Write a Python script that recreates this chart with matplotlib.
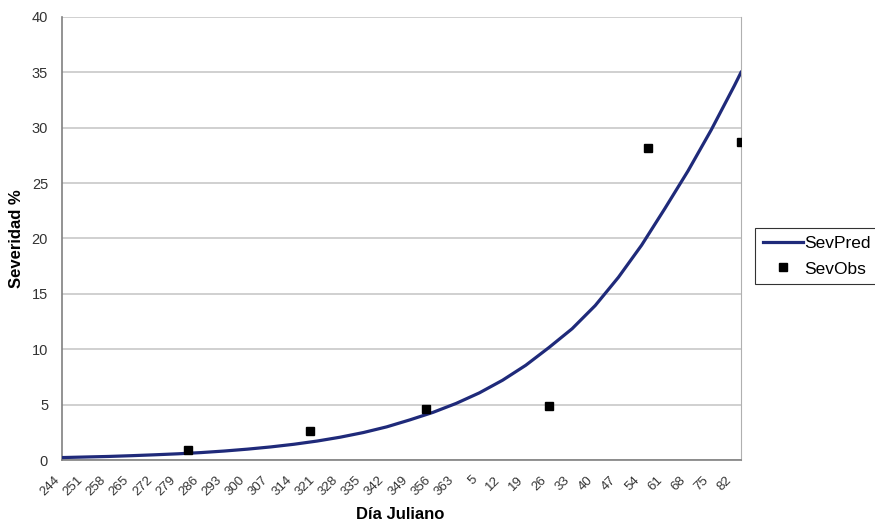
import matplotlib
matplotlib.use('Agg')
import matplotlib.pyplot as plt

plt.rcParams['font.family'] = ['Liberation Sans', 'DejaVu Sans']

# predicted severity, read every 7 days from day 244 (days past 365 run on into next year)
pred_days = [244, 251, 258, 265, 272, 279, 286, 293, 300, 307, 314, 321, 328, 335, 342,
             349, 356, 363, 370, 377, 384, 391, 398, 405, 412, 419, 426, 433, 440, 447, 449]
sev_pred = [0.22, 0.27, 0.32, 0.39, 0.47, 0.56, 0.67, 0.81, 0.98, 1.18, 1.42, 1.71, 2.06,
            2.48, 2.99, 3.62, 4.30, 5.11, 6.06, 7.2, 8.55, 10.15, 11.85, 13.95, 16.5, 19.4,
            22.7, 26.1, 29.8, 33.8, 35.0]

# observed severity (Julian day of sampling)
obs_days = [282, 319, 354, 26, 56, 84]
sev_obs = [0.9, 2.6, 4.6, 4.9, 28.2, 28.7]

tick_days = list(range(244, 448, 7))
tick_labels = [str(d - 365) if d > 365 else str(d) for d in tick_days]

# continue the day count past the end of the year
obs_x = [d + 365 if d < 244 else d for d in obs_days]

fig = plt.figure(figsize=(8.75, 5.26), dpi=100)
ax = fig.add_axes([62 / 875, 1 - 460 / 526, 679 / 875, 443 / 526])

ax.plot(pred_days, sev_pred, color='#1f2a7a', linewidth=2.3, label='SevPred', zorder=3)
ax.plot(obs_x, sev_obs, linestyle='none', marker='s', markersize=6, color='black',
        label='SevObs', zorder=4)

ax.set_xlim(244, 449)
ax.set_ylim(0, 40)
ax.set_yticks(range(0, 41, 5))
ax.grid(axis='y', color='#c4c4c4', linewidth=1.1)
ax.set_axisbelow(True)

ax.set_xticks(tick_days)
ax.set_xticklabels(tick_labels, rotation=45, ha='right', va='top', fontsize=9.5, color='#333333')
ax.tick_params(axis='x', length=0, pad=10)
ax.tick_params(axis='y', length=0, pad=10, labelsize=10.5, labelcolor='#333333')

for side in ['left', 'bottom']:
    ax.spines[side].set_color('#808080')
    ax.spines[side].set_linewidth(1.2)
ax.spines['right'].set_color('#b0b0b0')
ax.spines['top'].set_visible(False)

ax.set_ylabel('Severidad %', fontsize=12, fontweight='bold')
ax.yaxis.set_label_coords(-0.056, 0.5)
ax.set_xlabel('Día Juliano', fontsize=12, fontweight='bold')
ax.xaxis.set_label_coords(0.498, -0.106)

leg = fig.legend(loc='upper left', bbox_to_anchor=(755 / 875, 1 - 228 / 526), fontsize=12.5,
                 frameon=True, fancybox=False, edgecolor='black', borderpad=0.45,
                 handlelength=2.3, handletextpad=0.1, labelspacing=0.6, borderaxespad=0)
leg.get_frame().set_linewidth(0.8)

fig.savefig('out.png', dpi=100)
